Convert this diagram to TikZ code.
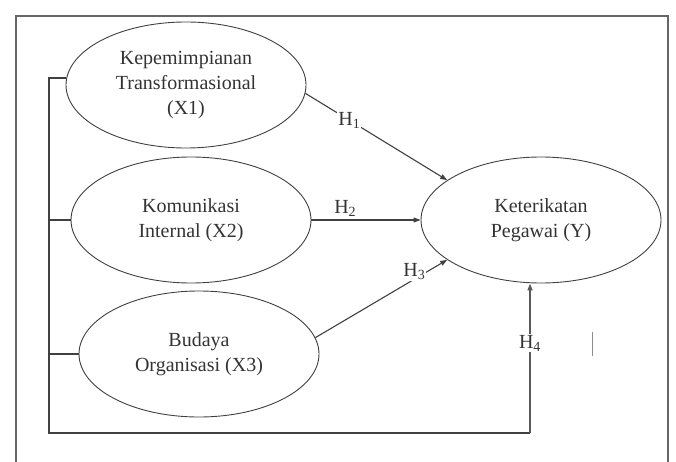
\documentclass[tikz,border=0pt]{standalone}
\usepackage{fontspec}
\setmainfont{Liberation Serif}
\usetikzlibrary{shapes.geometric,arrows.meta}
\tikzset{
  construct/.style={ellipse, draw=black!75, line width=0.9pt, minimum width=240pt,
    minimum height=126pt, inner sep=0pt, align=center, text=black!80},
  link/.style={draw=black!75, line width=1.1pt},
  hyp arrow/.style={link, -{Triangle[length=7pt,width=5pt]}},
  hyp label/.style={fill=white, inner sep=1pt, text=black!80},
}

\begin{document}
\begin{tikzpicture}[x=1pt, y=-1pt, every node/.style={font=\fontsize{20}{25}\selectfont}]
  \useasboundingbox (0,0) rectangle (676,462);
  \draw[black!60, line width=1.5pt] (16,462) -- (16,16) -- (668,16) -- (668,462);
  \node[construct] (x1) at (186, 85) {Kepemimpianan\\Transformasional\\(X1)};
  \node[construct] (x2) at (191,220) {Komunikasi\\Internal (X2)};
  \node[construct] (x3) at (199,354) {Budaya\\Organisasi (X3)};
  \node[construct] (y)  at (541,220) {Keterikatan\\Pegawai (Y)};
  \coordinate (bus top)    at (49, 78);
  \coordinate (bus bottom) at (49,433);
  \coordinate (bend)       at (530,433);
  % left bus to Y
  \draw[link] (x1.west |- bus top) -- (bus top) -- (bus bottom) -- (bend);
  \draw[link] (x2.west) -- (x2.west -| bus top);
  \draw[link] (x3.west) -- (x3.west -| bus top);
  \draw[hyp arrow, line width=1.5pt, draw=black!65] (bend) -- (y.south -| bend)
    node[hyp label, pos=0.6] (h4) {H\textsubscript{4}};
  % direct paths
  \draw[hyp arrow] (x1.-4) -- (y.157) node[hyp label, pos=0.31] (h1) {H\textsubscript{1}};
  \draw[hyp arrow] (x2.east) -- (y.west) node[above, pos=0.31, text=black!80] (h2) {H\textsubscript{2}};
  \draw[hyp arrow] (x3.8) -- (y.203) node[hyp label, pos=0.8, above left=-6pt] (h3) {H\textsubscript{3}};
  \draw[black!45, line width=0.8pt] (592,332) -- (592,356);
\end{tikzpicture}
\end{document}
